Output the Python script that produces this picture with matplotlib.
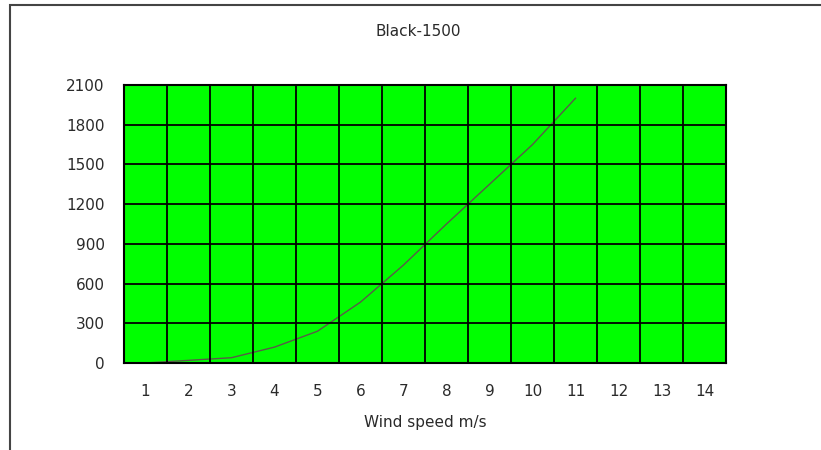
import numpy as np
import matplotlib
matplotlib.use("Agg")
import matplotlib.pyplot as plt
from matplotlib.patches import Rectangle

# wind speed categories and power curve
categories = list(range(1, 15))
speeds = [1, 2, 3, 4, 5, 6, 7, 8, 9, 10, 11]
power = [0, 20, 40, 120, 240, 460, 740, 1050, 1350, 1650, 2000]
y_ticks = [0, 300, 600, 900, 1200, 1500, 1800, 2100]

plt.rcParams['font.family'] = ['DejaVu Sans']
fs = 11
txt = '#2a2a2a'

fig = plt.figure(figsize=(8.21, 4.5), dpi=100)
ax = fig.add_axes([124/821, 1 - 363/450, (726 - 124)/821, (363 - 85)/450])
ax.set_facecolor('#00ff00')

# outer chart border (cut off at right and bottom)
fig.patches.append(Rectangle((10/821, -0.05), 1.2, 1 - 5/450 + 0.05,
                             transform=fig.transFigure, fill=False,
                             edgecolor='#444444', linewidth=1.5))

ax.plot(speeds, power, color='#5a5a4a', linewidth=1.0)

ax.set_xlim(0.5, len(categories) + 0.5)
ax.set_ylim(0, 2100)
ax.set_xticks(categories)
ax.set_xticklabels([str(c) for c in categories], fontsize=fs, color=txt)
ax.set_xticks(np.arange(0.5, len(categories) + 1, 1), minor=True)
ax.set_yticks(y_ticks)
ax.set_yticklabels([str(v) for v in y_ticks], fontsize=fs, color=txt)

ax.grid(True, which='minor', axis='x', color='black', linewidth=1.3)
ax.grid(True, which='major', axis='y', color='black', linewidth=1.3)
ax.tick_params(which='both', length=0)
ax.tick_params(axis='x', pad=15)
ax.tick_params(axis='y', pad=14)
for s in ax.spines.values():
    s.set_color('black')
    s.set_linewidth(1.5)
ax.set_axisbelow(False)

ax.set_xlabel("Wind speed m/s", fontsize=fs, color=txt, labelpad=12)
fig.text(418/821, 1 - 31/450, "Black-1500", ha='center', va='center',
         fontsize=fs, color=txt)

fig.savefig("out.png", dpi=100, facecolor='white')
